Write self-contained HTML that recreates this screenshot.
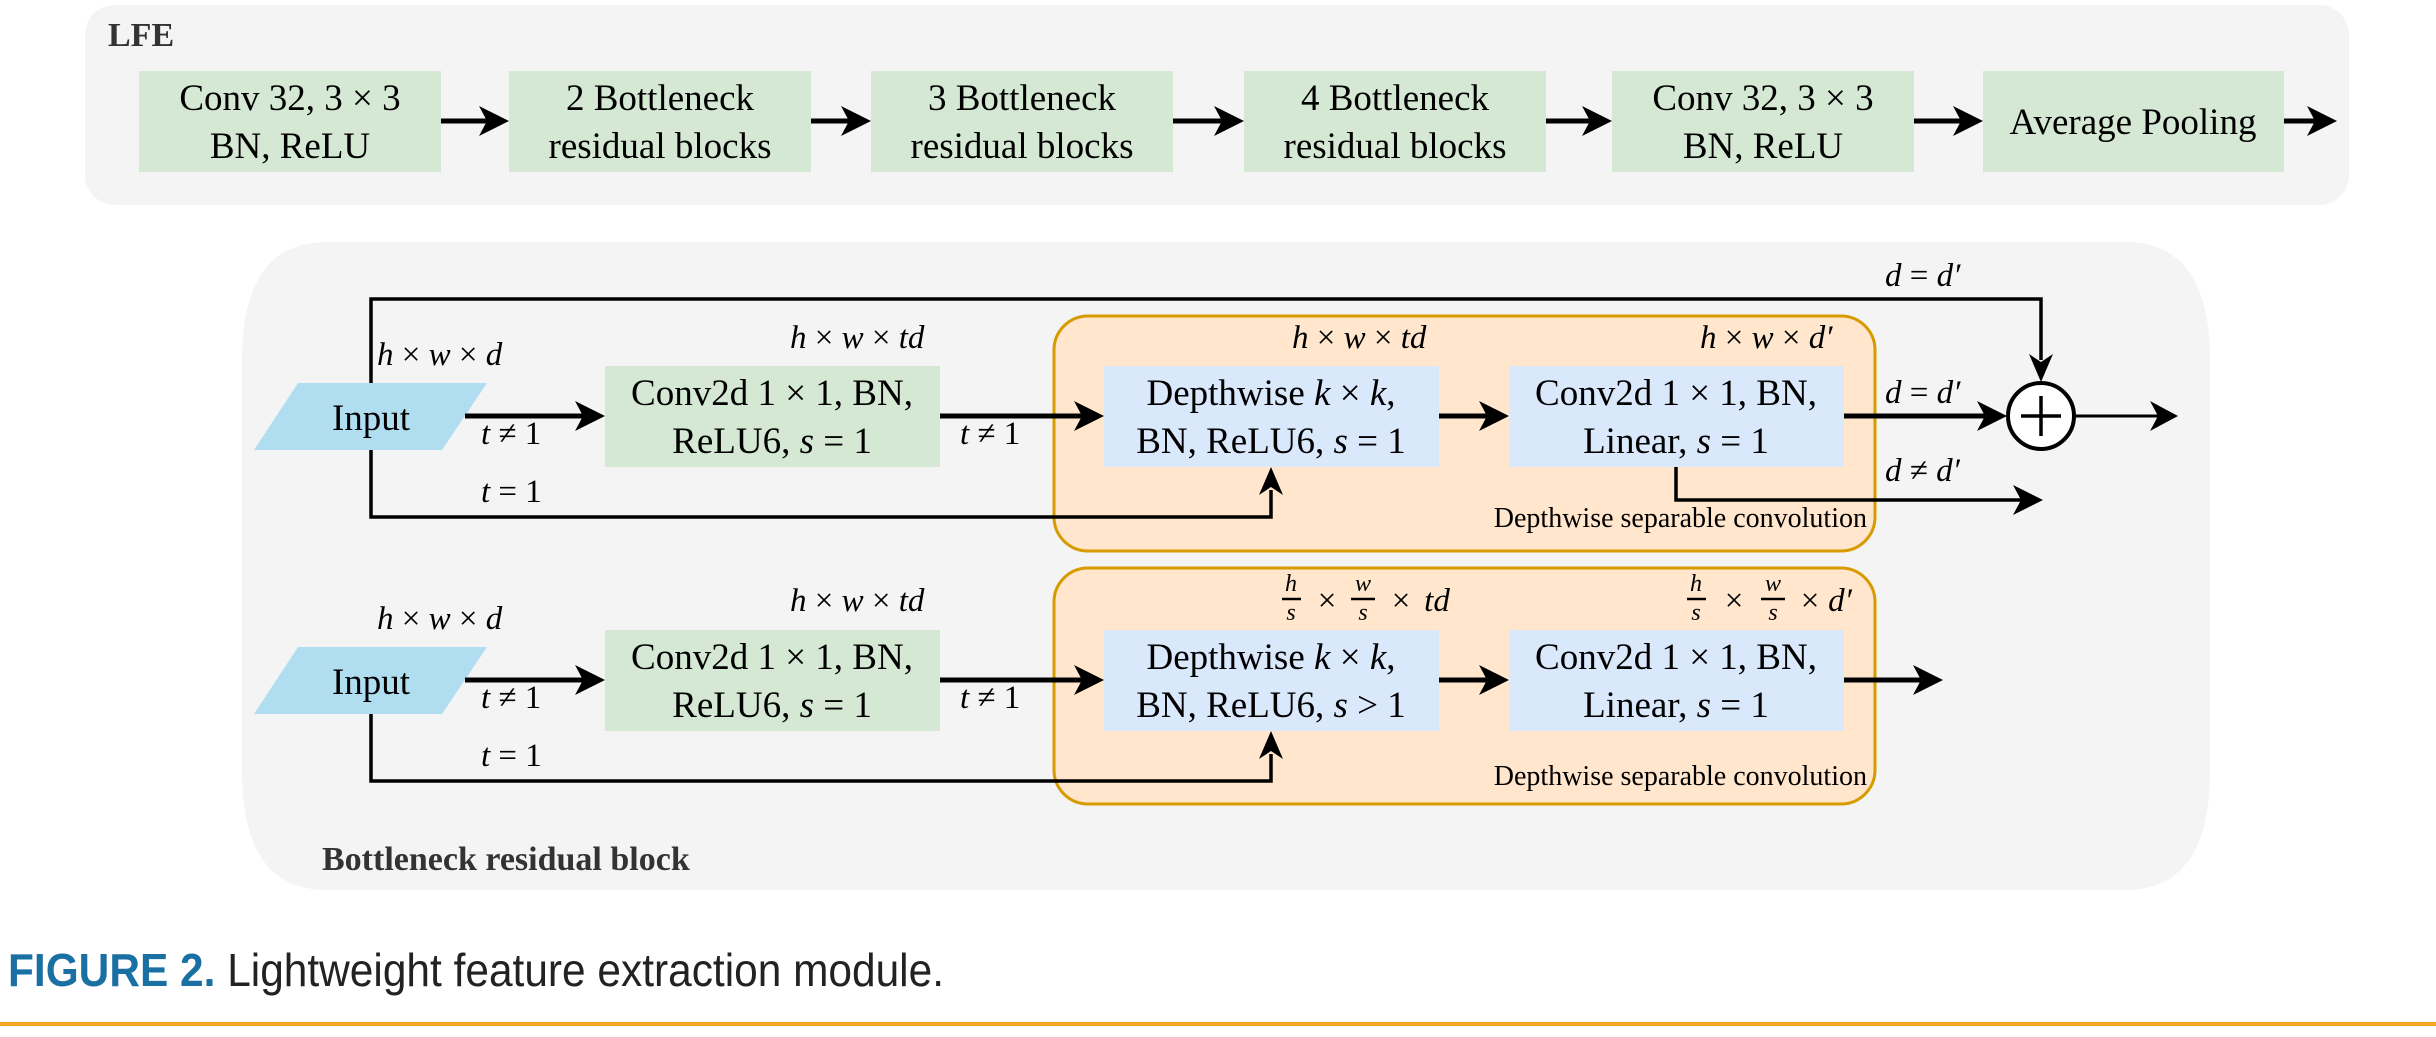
<!DOCTYPE html>
<html><head><meta charset="utf-8"><style>
html,body{margin:0;padding:0;background:#fff;}
svg{display:block;}
.t{font-family:"Liberation Serif",serif;font-size:37px;fill:#000;}
.m{font-family:"Liberation Serif",serif;font-size:33px;font-style:italic;fill:#000;}
.mu{font-style:normal;}
</style></head><body>
<svg width="2436" height="1037" viewBox="0 0 2436 1037" xmlns="http://www.w3.org/2000/svg">
<!-- LFE panel -->
<rect x="85" y="5" width="2264" height="200" rx="30" fill="#f4f4f4"/>
<text x="108" y="46" font-family="Liberation Serif,serif" font-weight="bold" font-size="34" fill="#333">LFE</text>
<g fill="#d5e8d4">
<rect x="139" y="71" width="302" height="101"/>
<rect x="509" y="71" width="302" height="101"/>
<rect x="871" y="71" width="302" height="101"/>
<rect x="1244" y="71" width="302" height="101"/>
<rect x="1612" y="71" width="302" height="101"/>
<rect x="1983" y="71" width="301" height="101"/>
</g>
<g class="t" text-anchor="middle">
<text x="290" y="110">Conv 32, 3 × 3</text><text x="290" y="158">BN, ReLU</text>
<text x="660" y="110">2 Bottleneck</text><text x="660" y="158">residual blocks</text>
<text x="1022" y="110">3 Bottleneck</text><text x="1022" y="158">residual blocks</text>
<text x="1395" y="110">4 Bottleneck</text><text x="1395" y="158">residual blocks</text>
<text x="1763" y="110">Conv 32, 3 × 3</text><text x="1763" y="158">BN, ReLU</text>
<text x="2133" y="134">Average Pooling</text>
</g>
<g stroke="#000" stroke-width="5">
<line x1="441" y1="121" x2="490" y2="121"/>
<line x1="811" y1="121" x2="852" y2="121"/>
<line x1="1173" y1="121" x2="1225" y2="121"/>
<line x1="1546" y1="121" x2="1593" y2="121"/>
<line x1="1914" y1="121" x2="1964" y2="121"/>
<line x1="2284" y1="121" x2="2318" y2="121"/>
</g>
<g fill="#000">
<polygon points="509,121 479,106 487,121 479,136"/>
<polygon points="871,121 841,106 849,121 841,136"/>
<polygon points="1244,121 1214,106 1222,121 1214,136"/>
<polygon points="1612,121 1582,106 1590,121 1582,136"/>
<polygon points="1983,121 1953,106 1961,121 1953,136"/>
<polygon points="2337,121 2307,106 2315,121 2307,136"/>
</g>

<!-- Bottleneck panel -->
<path d="M327,242 H2125 Q2210,242 2210,360 V772 Q2210,890 2125,890 H327 Q242,890 242,772 V360 Q242,242 327,242 Z" fill="#f4f4f4"/>
<text x="322" y="870" font-family="Liberation Serif,serif" font-weight="bold" font-size="34" fill="#333">Bottleneck residual block</text>

<!-- Orange boxes -->
<rect x="1054" y="316" width="821" height="235" rx="34" fill="#ffe6cc" stroke="#d79b00" stroke-width="3"/>
<rect x="1054" y="568" width="821" height="236" rx="34" fill="#ffe6cc" stroke="#d79b00" stroke-width="3"/>
<g font-family="Liberation Serif,serif" font-size="28" text-anchor="end">
<text x="1867" y="527">Depthwise separable convolution</text>
<text x="1867" y="785">Depthwise separable convolution</text>
</g>

<!-- Row 1 -->
<polyline points="371,383 371,299 2041,299 2041,360" fill="none" stroke="#000" stroke-width="3.5"/>
<polygon points="2041,382 2029,354 2041,362 2053,354" fill="#000"/>
<polyline points="371,450 371,517 1271,517 1271,490" fill="none" stroke="#000" stroke-width="3.5"/>
<polygon points="1271,467 1259,495 1271,487 1283,495" fill="#000"/>
<polygon points="298,383 487,383 442,450 254,450" fill="#b1ddf0"/>
<text class="t" x="371" y="430" text-anchor="middle" font-size="36">Input</text>
<rect x="605" y="366" width="335" height="101" fill="#d5e8d4"/>
<rect x="1104" y="366" width="335" height="101" fill="#dae8fc"/>
<rect x="1509" y="366" width="335" height="101" fill="#dae8fc"/>
<g class="t" text-anchor="middle">
<text x="772" y="405">Conv2d 1 × 1, BN,</text><text x="772" y="453">ReLU6, <tspan font-style="italic">s</tspan> = 1</text>
<text x="1271" y="405">Depthwise <tspan font-style="italic">k</tspan> × <tspan font-style="italic">k</tspan>,</text><text x="1271" y="453">BN, ReLU6, <tspan font-style="italic">s</tspan> = 1</text>
<text x="1676" y="405">Conv2d 1 × 1, BN,</text><text x="1676" y="453">Linear, <tspan font-style="italic">s</tspan> = 1</text>
</g>
<g stroke="#000" stroke-width="5">
<line x1="465" y1="416" x2="585" y2="416"/>
<line x1="940" y1="416" x2="1084" y2="416"/>
<line x1="1439" y1="416" x2="1489" y2="416"/>
<line x1="1844" y1="416" x2="1985" y2="416"/>
</g>
<g fill="#000">
<polygon points="605,416 575,401 583,416 575,431"/>
<polygon points="1104,416 1074,401 1082,416 1074,431"/>
<polygon points="1509,416 1479,401 1487,416 1479,431"/>
<polygon points="2007,416 1977,401 1985,416 1977,431"/>
<polygon points="2178,416 2150,401 2158,416 2150,431"/>
<polygon points="2043,500 2013,485 2021,500 2013,515"/>
</g>
<circle cx="2041" cy="416" r="33" fill="#fff" stroke="#000" stroke-width="4"/>
<line x1="2021" y1="416" x2="2061" y2="416" stroke="#000" stroke-width="3.5"/>
<line x1="2041" y1="396" x2="2041" y2="436" stroke="#000" stroke-width="3.5"/>
<line x1="2074" y1="416" x2="2160" y2="416" stroke="#000" stroke-width="3"/>
<polyline points="1676,467 1676,500 2022,500" fill="none" stroke="#000" stroke-width="3.5"/>
<g class="m">
<text x="377" y="365">h <tspan class="mu">×</tspan> w <tspan class="mu">×</tspan> d</text>
<text x="481" y="444">t <tspan class="mu">≠ 1</tspan></text>
<text x="481" y="502">t <tspan class="mu">= 1</tspan></text>
<text x="790" y="348">h <tspan class="mu">×</tspan> w <tspan class="mu">×</tspan> td</text>
<text x="960" y="444">t <tspan class="mu">≠ 1</tspan></text>
<text x="1292" y="348">h <tspan class="mu">×</tspan> w <tspan class="mu">×</tspan> td</text>
<text x="1700" y="348">h <tspan class="mu">×</tspan> w <tspan class="mu">×</tspan> d′</text>
<text x="1885" y="286">d <tspan class="mu">=</tspan> d′</text>
<text x="1885" y="403">d <tspan class="mu">=</tspan> d′</text>
<text x="1885" y="481">d <tspan class="mu">≠</tspan> d′</text>
</g>

<!-- Row 2 -->
<polyline points="371,714 371,781 1271,781 1271,754" fill="none" stroke="#000" stroke-width="3.5"/>
<polygon points="1271,731 1259,759 1271,751 1283,759" fill="#000"/>
<polygon points="298,647 487,647 442,714 254,714" fill="#b1ddf0"/>
<text class="t" x="371" y="694" text-anchor="middle" font-size="36">Input</text>
<rect x="605" y="630" width="335" height="101" fill="#d5e8d4"/>
<rect x="1104" y="630" width="335" height="101" fill="#dae8fc"/>
<rect x="1509" y="630" width="335" height="101" fill="#dae8fc"/>
<g class="t" text-anchor="middle">
<text x="772" y="669">Conv2d 1 × 1, BN,</text><text x="772" y="717">ReLU6, <tspan font-style="italic">s</tspan> = 1</text>
<text x="1271" y="669">Depthwise <tspan font-style="italic">k</tspan> × <tspan font-style="italic">k</tspan>,</text><text x="1271" y="717">BN, ReLU6, <tspan font-style="italic">s</tspan> &gt; 1</text>
<text x="1676" y="669">Conv2d 1 × 1, BN,</text><text x="1676" y="717">Linear, <tspan font-style="italic">s</tspan> = 1</text>
</g>
<g stroke="#000" stroke-width="5">
<line x1="465" y1="680" x2="585" y2="680"/>
<line x1="940" y1="680" x2="1084" y2="680"/>
<line x1="1439" y1="680" x2="1489" y2="680"/>
<line x1="1844" y1="680" x2="1923" y2="680"/>
</g>
<g fill="#000">
<polygon points="605,680 575,665 583,680 575,695"/>
<polygon points="1104,680 1074,665 1082,680 1074,695"/>
<polygon points="1509,680 1479,665 1487,680 1479,695"/>
<polygon points="1943,680 1913,665 1921,680 1913,695"/>
</g>
<g class="m">
<text x="377" y="629">h <tspan class="mu">×</tspan> w <tspan class="mu">×</tspan> d</text>
<text x="481" y="708">t <tspan class="mu">≠ 1</tspan></text>
<text x="481" y="766">t <tspan class="mu">= 1</tspan></text>
<text x="790" y="611">h <tspan class="mu">×</tspan> w <tspan class="mu">×</tspan> td</text>
<text x="960" y="708">t <tspan class="mu">≠ 1</tspan></text>
</g>
<!-- fractions -->
<g font-family="Liberation Serif,serif" font-style="italic" font-size="24" text-anchor="middle">
<text x="1291" y="591">h</text><text x="1291" y="620">s</text>
<text x="1363" y="591">w</text><text x="1363" y="620">s</text>
<text x="1696" y="591">h</text><text x="1696" y="620">s</text>
<text x="1773" y="591">w</text><text x="1773" y="620">s</text>
</g>
<g stroke="#000" stroke-width="2.5">
<line x1="1282" y1="599" x2="1301" y2="599"/><line x1="1351" y1="599" x2="1375" y2="599"/>
<line x1="1687" y1="599" x2="1706" y2="599"/><line x1="1761" y1="599" x2="1785" y2="599"/>
</g>
<g class="m" text-anchor="middle">
<text x="1327" y="611" class="mu" font-style="normal">×</text>
<text x="1401" y="611" font-style="normal">×</text>
<text x="1437" y="611">td</text>
<text x="1734" y="611" font-style="normal">×</text>
<text x="1810" y="611" font-style="normal">×</text>
<text x="1840" y="611">d′</text>
</g>

<!-- Caption -->
<text x="8" y="986" font-family="Liberation Sans,sans-serif" font-size="46" textLength="936" lengthAdjust="spacingAndGlyphs"><tspan fill="#1a6fa3" font-weight="bold">FIGURE 2.</tspan><tspan fill="#222"> Lightweight feature extraction module.</tspan></text>
<rect x="0" y="1022" width="2436" height="4" fill="#f5a623"/>
</svg>
</body></html>
